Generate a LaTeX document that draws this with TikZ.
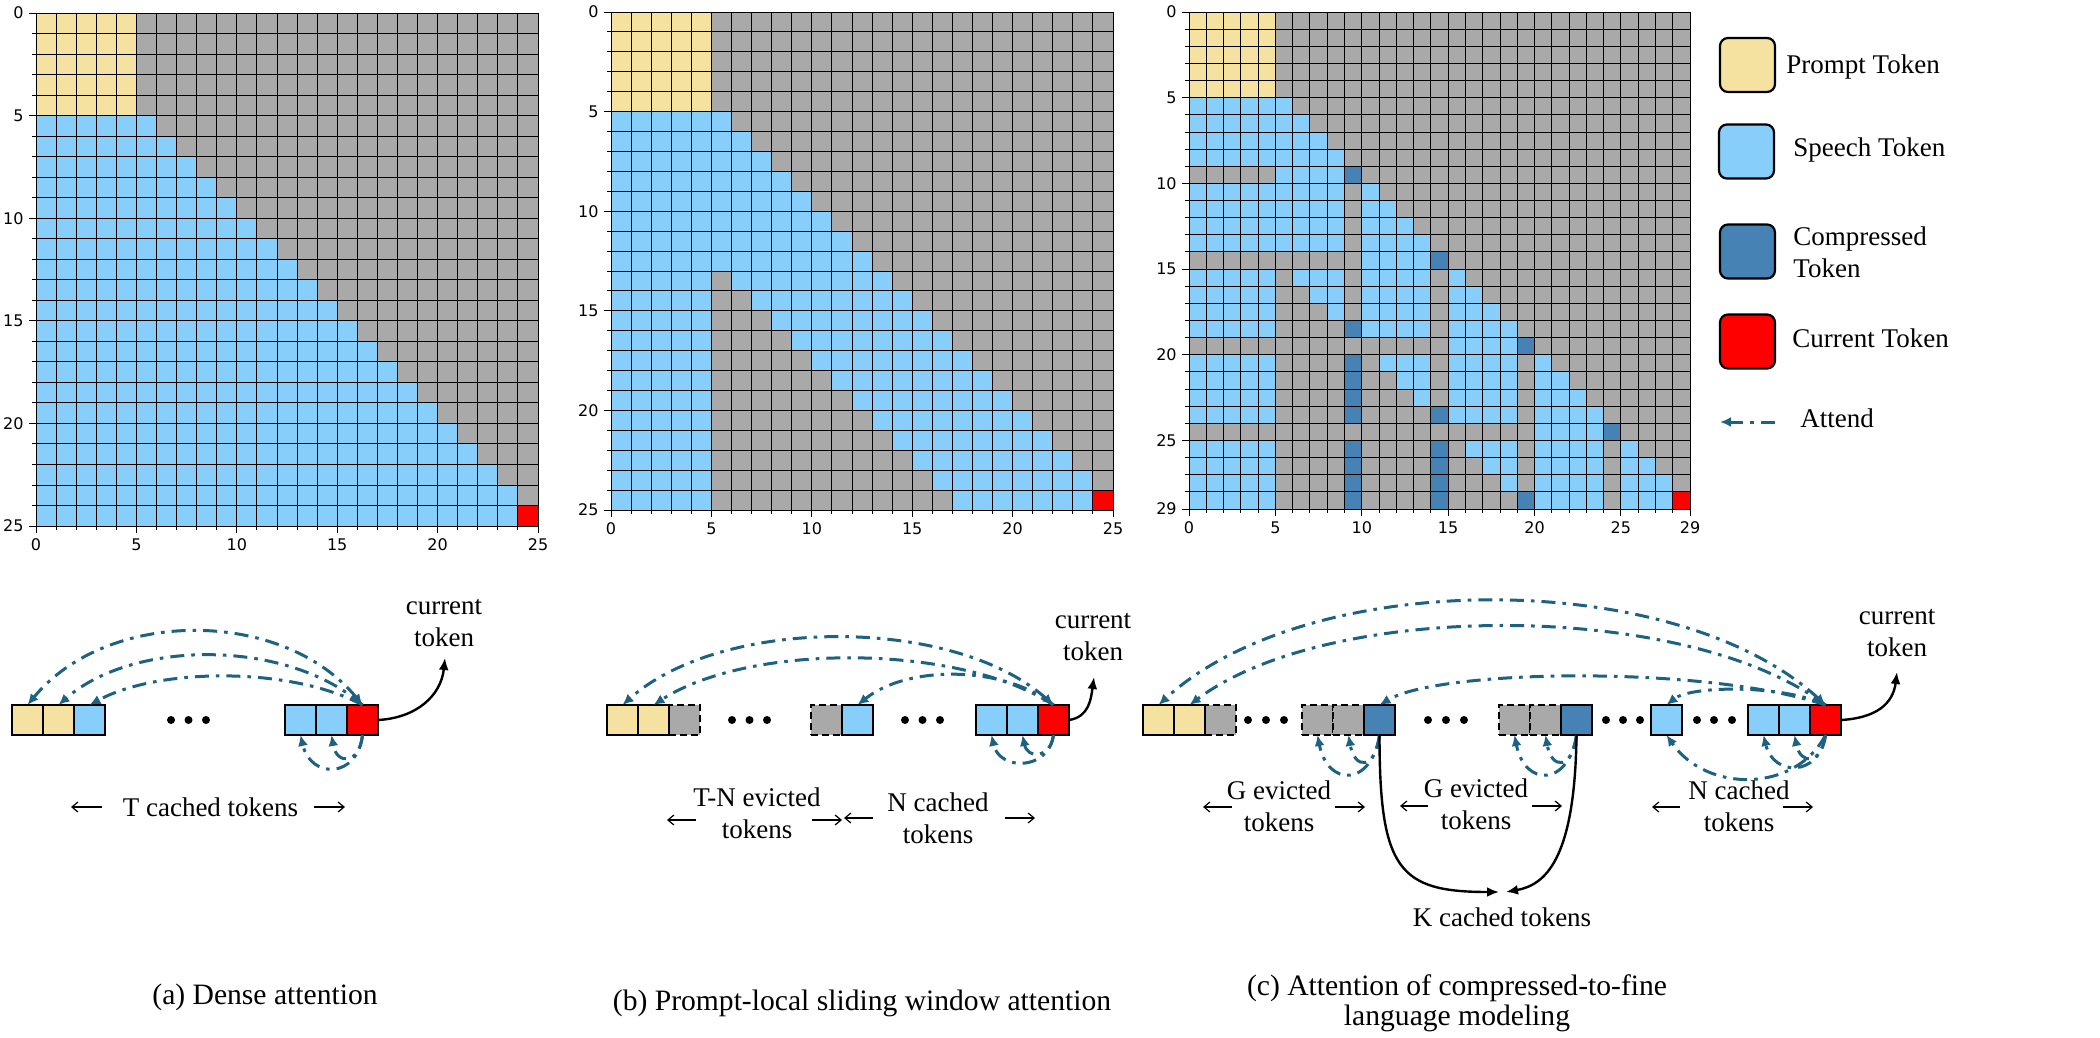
\documentclass[tikz,border=0pt]{standalone}
\usepackage{fontspec}
\setmainfont{Liberation Serif}
\newfontfamily\tickfont{DejaVu Sans}
\usetikzlibrary{arrows.meta}
\definecolor{promptc}{RGB}{246,226,160}
\definecolor{speechc}{RGB}{135,206,250}
\definecolor{comprc}{RGB}{70,130,180}
\definecolor{curc}{RGB}{255,0,0}
\definecolor{greyc}{RGB}{169,169,169}
\definecolor{attc}{RGB}{30,98,130}
\tikzset{
 gridln/.style={black, line width=0.45pt},
 tickln/.style={black, line width=0.45pt},
 ticklbl/.style={font=\tickfont\fontsize{8}{9}\selectfont, inner sep=0pt},
 tok/.style={draw=black, line width=1pt, minimum width=15.5pt, minimum height=15pt, inner sep=0pt, outer sep=0pt},
 evict/.style={tok, fill=greyc, dash pattern=on 3.5pt off 2pt},
 attend/.style={draw=attc, line width=1.5pt, dash pattern=on 7pt off 3.5pt on 1.8pt off 3.5pt, -{Latex[length=5.5pt,width=5pt]}},
 attendboth/.style={attend, {Latex[length=5.5pt,width=5pt]}-{Latex[length=5.5pt,width=5pt]}},
 blk/.style={draw=black, line width=1.2pt, -{Latex[length=6pt,width=5pt]}},
 lbl/.style={font=\fontsize{13.5}{16.2}\selectfont, inner sep=0pt, align=center},
 spanarr/.style={draw=black, line width=0.6pt, -{Straight Barb[length=3pt,width=5pt]}},
 legbox/.style={draw=black, line width=1.1pt, rounded corners=4pt, minimum width=27.5pt, minimum height=27pt, inner sep=0pt},
 captxt/.style={font=\fontsize{14.8}{15}\selectfont, inner sep=0pt, align=center},
}
\begin{document}
\begin{tikzpicture}[x=0.5pt,y=-0.5pt]
\fill[white] (0,0) rectangle (2100,1038);
\useasboundingbox (0,0) rectangle (2100,1038);

% ---------------- Matrix (a)
\begin{scope}[shift={(18pt,-6.5pt)},x=10.04pt,y=-10.26pt]
 \fill[greyc] (0,0) rectangle (25,25);
 \fill[promptc] (0,0) rectangle (5,5);
 \foreach \r in {5,...,23} \fill[speechc] (0,\r) rectangle (\r+1,\r+1);
 \fill[speechc] (0,24) rectangle (24,25);
 \fill[curc] (24,24) rectangle (25,25);
 \foreach \i in {0,...,25} {
   \draw[gridln] (\i,0) -- (\i,25); \draw[gridln] (0,\i) -- (25,\i);
   \draw[tickln] (\i,25) -- ++(0,-1.9pt); \draw[tickln] (0,\i) -- ++(-1.9pt,0);}
 \foreach \i in {0,5,...,25} {
   \draw[tickln] (\i,25) -- ++(0,-3.3pt); \draw[tickln] (0,\i) -- ++(-3.3pt,0);
   \node[ticklbl,anchor=east] (mal\i) at ([xshift=-6pt]0,\i) {\i};
   \node[ticklbl,anchor=north] (mab\i) at ([yshift=-6pt]\i,25) {\i};}
\end{scope}

% ---------------- Matrix (b)
\begin{scope}[shift={(305.5pt,-6pt)},x=10.04pt,y=-9.96pt]
 \fill[greyc] (0,0) rectangle (25,25);
 \fill[promptc] (0,0) rectangle (5,5);
 \foreach \r in {5,...,12} \fill[speechc] (0,\r) rectangle (\r+1,\r+1);
 \foreach \r in {13,...,23} {\fill[speechc] (0,\r) rectangle (5,\r+1); \fill[speechc] (\r-7,\r) rectangle (\r+1,\r+1);}
 \fill[speechc] (0,24) rectangle (5,25);
 \fill[speechc] (17,24) rectangle (24,25);
 \fill[curc] (24,24) rectangle (25,25);
 \foreach \i in {0,...,25} {
   \draw[gridln] (\i,0) -- (\i,25); \draw[gridln] (0,\i) -- (25,\i);
   \draw[tickln] (\i,25) -- ++(0,-1.9pt); \draw[tickln] (0,\i) -- ++(-1.9pt,0);}
 \foreach \i in {0,5,...,25} {
   \draw[tickln] (\i,25) -- ++(0,-3.3pt); \draw[tickln] (0,\i) -- ++(-3.3pt,0);
   \node[ticklbl,anchor=east] (mbl\i) at ([xshift=-6pt]0,\i) {\i};
   \node[ticklbl,anchor=north] (mbb\i) at ([yshift=-6pt]\i,25) {\i};}
\end{scope}

% ---------------- Matrix (c)
\begin{scope}[shift={(594.5pt,-6pt)},x=8.638pt,y=-8.569pt]
 \fill[greyc] (0,0) rectangle (29,29);
 \fill[promptc] (0,0) rectangle (5,5);
 \foreach \r/\a/\b/\c in {5/0/6/speechc, 6/0/7/speechc, 7/0/8/speechc, 8/0/9/speechc,
   9/5/9/speechc, 9/9/10/comprc,
   10/0/9/speechc, 10/10/11/speechc, 11/0/9/speechc, 11/10/12/speechc,
   12/0/9/speechc, 12/10/13/speechc, 13/0/9/speechc, 13/10/14/speechc,
   14/10/14/speechc, 14/14/15/comprc,
   15/0/5/speechc, 15/6/9/speechc, 15/10/14/speechc, 15/15/16/speechc,
   16/0/5/speechc, 16/7/9/speechc, 16/10/14/speechc, 16/15/17/speechc,
   17/0/5/speechc, 17/8/9/speechc, 17/10/14/speechc, 17/15/18/speechc,
   18/0/5/speechc, 18/9/10/comprc, 18/10/14/speechc, 18/15/19/speechc,
   19/15/19/speechc, 19/19/20/comprc,
   20/0/5/speechc, 20/9/10/comprc, 20/11/14/speechc, 20/15/19/speechc, 20/20/21/speechc,
   21/0/5/speechc, 21/9/10/comprc, 21/12/14/speechc, 21/15/19/speechc, 21/20/22/speechc,
   22/0/5/speechc, 22/9/10/comprc, 22/13/14/speechc, 22/15/19/speechc, 22/20/23/speechc,
   23/0/5/speechc, 23/9/10/comprc, 23/14/15/comprc, 23/15/19/speechc, 23/20/24/speechc,
   24/20/24/speechc, 24/24/25/comprc,
   25/0/5/speechc, 25/9/10/comprc, 25/14/15/comprc, 25/16/19/speechc, 25/20/24/speechc, 25/25/26/speechc,
   26/0/5/speechc, 26/9/10/comprc, 26/14/15/comprc, 26/17/19/speechc, 26/20/24/speechc, 26/25/27/speechc,
   27/0/5/speechc, 27/9/10/comprc, 27/14/15/comprc, 27/18/19/speechc, 27/20/24/speechc, 27/25/28/speechc,
   28/0/5/speechc, 28/9/10/comprc, 28/14/15/comprc, 28/19/20/comprc, 28/20/24/speechc, 28/25/28/speechc, 28/28/29/curc}
   \fill[\c] (\a,\r) rectangle (\b,\r+1);
 \foreach \i in {0,...,29} {
   \draw[gridln] (\i,0) -- (\i,29); \draw[gridln] (0,\i) -- (29,\i);
   \draw[tickln] (\i,29) -- ++(0,-1.9pt); \draw[tickln] (0,\i) -- ++(-1.9pt,0);}
 \foreach \i in {0,5,10,15,20,25,29} {
   \draw[tickln] (\i,29) -- ++(0,-3.3pt); \draw[tickln] (0,\i) -- ++(-3.3pt,0);
   \node[ticklbl,anchor=east] (mcl\i) at ([xshift=-6pt]0,\i) {\i};
   \node[ticklbl,anchor=north] (mcb\i) at ([yshift=-6pt]\i,29) {\i};}
\end{scope}

% ---------------- Legend
\node[legbox, fill=promptc] (lg1) at (1747.5,65) {};
\node[lbl, anchor=west] (lt1) at (1786,67) {Prompt Token};
\node[legbox, fill=speechc] (lg2) at (1746.5,151.5) {};
\node[lbl, anchor=west] (lt2) at (1793,150) {Speech Token};
\node[legbox, fill=comprc] (lg3) at (1747.5,251.5) {};
\node[lbl, anchor=west, align=left] (lt3) at (1793,252) {Compressed\\Token};
\node[legbox, fill=curc] (lg4) at (1747.5,341.5) {};
\node[lbl, anchor=west] (lt4) at (1792,338) {Current Token};
\coordinate (lga) at (1775,422);
\coordinate (lgb) at (1720,422);
\draw[attend] (lga) -- (lgb);
\node[lbl, anchor=west] (lt5) at (1800,418) {Attend};

% ---------------- Bottom (a)
\node[tok, fill=promptc] (ay1) at (27.5,720) {};
\node[tok, fill=promptc] (ay2) at (58.5,720) {};
\node[tok, fill=speechc] (ab1) at (89.5,720) {};
\foreach \xx in {171,188.5,206} \fill (\xx,720) circle (2pt);
\node[tok, fill=speechc] (ab2) at (300.5,720) {};
\node[tok, fill=speechc] (ab3) at (331.5,720) {};
\node[tok, fill=curc] (ared) at (362.5,720) {};
\draw[attendboth] (ared.north) .. controls +(-80,-97) and +(80,-97) .. (ay1.north);
\draw[attend] (ared.north) .. controls +(-75,-66) and +(75,-66) .. (ay2.north);
\draw[attend] (ared.north) .. controls +(-70,-38) and +(70,-38) .. (ab1.north);
\draw[attend] (ared.south) .. controls +(-5,44) and +(10,44) .. (ab2.south);
\draw[attend] (ared.south) .. controls +(-3,30) and +(5,30) .. (ab3.south);
\node[lbl] (acurt) at (444,623) {current\\token};
\coordinate (aarr) at (445,658);
\draw[blk] (ared.east) .. controls +(38,-2) and +(-4,38) .. (aarr);
\node[lbl] (aT) at (210.5,807) {T cached tokens};

% ---------------- Bottom (b)
\node[evict] (bg1) at (684.5,720) {};
\node[tok, fill=promptc] (by1) at (622.5,720) {};
\node[tok, fill=promptc] (by2) at (653.5,720) {};
\foreach \xx in {732,749.5,767} \fill (\xx,720) circle (2pt);
\node[evict] (bg2) at (826.5,720) {};
\node[tok, fill=speechc] (bb1) at (857.5,720) {};
\foreach \xx in {905,922.5,940} \fill (\xx,720) circle (2pt);
\node[tok, fill=speechc] (bb2) at (991.5,720) {};
\node[tok, fill=speechc] (bb3) at (1022.5,720) {};
\node[tok, fill=curc] (bred) at (1053.5,720) {};
\draw[attendboth] (bred.north) .. controls +(-100,-89) and +(100,-89) .. (by1.north);
\draw[attend] (bred.north) .. controls +(-95,-62) and +(95,-62) .. (by2.north);
\draw[attend] (bred.north) .. controls +(-50,-40) and +(50,-40) .. (bb1.north);
\draw[attend] (bred.south) .. controls +(-5,36) and +(8,36) .. (bb2.south);
\draw[attend] (bred.south) .. controls +(-3,24) and +(5,24) .. (bb3.south);
\node[lbl] (bcurt) at (1093,637) {current\\token};
\coordinate (barr) at (1094,677);
\draw[blk] (bred.east) .. controls +(20,-3) and +(-3,22) .. (barr);
\node[lbl] (bTN) at (757,813) {T-N evicted\\tokens};
\node[lbl] (bN) at (938,818) {N cached\\tokens};

% ---------------- Bottom (c)
\node[evict] (cg0) at (1220.5,720) {};
\node[tok, fill=promptc] (cy1) at (1158.5,720) {};
\node[tok, fill=promptc] (cy2) at (1189.5,720) {};
\foreach \xx in {1248,1266,1284} \fill (\xx,720) circle (2pt);
\node[evict] (cg1a) at (1317.5,720) {};
\node[evict] (cg1b) at (1348.5,720) {};
\node[tok, fill=comprc] (cd1) at (1379.5,720) {};
\foreach \xx in {1428,1446,1464} \fill (\xx,720) circle (2pt);
\node[evict] (cg2a) at (1514.5,720) {};
\node[evict] (cg2b) at (1545.5,720) {};
\node[tok, fill=comprc] (cd2) at (1576.5,720) {};
\foreach \xx in {1606,1623,1640} \fill (\xx,720) circle (2pt);
\node[tok, fill=speechc] (cbs) at (1666.5,720) {};
\foreach \xx in {1697,1714,1732} \fill (\xx,720) circle (2pt);
\node[tok, fill=speechc] (cb1) at (1763.5,720) {};
\node[tok, fill=speechc] (cb2) at (1794.5,720) {};
\node[tok, fill=curc] (cred) at (1825.5,720) {};
\draw[attendboth] (cred.north) .. controls +(-150,-138) and +(150,-138) .. (cy1.north);
\draw[attend] (cred.north) .. controls +(-140,-105) and +(140,-105) .. (cy2.north);
\draw[attend] (cred.north) .. controls +(-120,-40) and +(60,-36) .. (cd1.north);
\draw[attend] (cred.north) .. controls +(-40,-20) and +(25,-20) .. (cbs.north);
\draw[attend] (cred.south) .. controls +(-4,30) and +(6,30) .. (cb2.south);
\draw[attend] (cred.south) .. controls +(-6,42) and +(10,42) .. (cb1.south);
\draw[attend] (cred.south) .. controls +(-30,58) and +(40,58) .. (cbs.south);
\draw[attend] (cd1.south) .. controls +(-4,35) and +(6,35) .. (cg1b.south);
\draw[attend] (cd1.south) .. controls +(-8,52) and +(10,52) .. (cg1a.south);
\draw[attend] (cd2.south) .. controls +(-4,35) and +(6,35) .. (cg2b.south);
\draw[attend] (cd2.south) .. controls +(-8,52) and +(10,52) .. (cg2a.south);
\node[lbl] (ccurt) at (1897,633) {current\\token};
\coordinate (carr) at (1897,672);
\draw[blk] (cred.east) .. controls +(35,-2) and +(-4,32) .. (carr);
\node[lbl] (cG1) at (1279,806) {G evicted\\tokens};
\node[lbl] (cG2) at (1476,804) {G evicted\\tokens};
\node[lbl] (cN) at (1739,806) {N cached\\tokens};
\node[lbl] (cK) at (1502,917) {K cached tokens};
\coordinate (kl) at (1499,892);
\coordinate (kr) at (1506,892);
\draw[blk] (cd1.south) .. controls +(0,135) and +(-100,0) .. (kl);
\draw[blk] (cd2.south) .. controls +(-1.5,125) and +(39,-7) .. (kr);

% ---------------- span arrows
\foreach \n/\sx/\ex/\yy in {1/102/71/807, 2/314/345/807,
   3/696/667/820, 4/812/842/820, 5/873/844/818, 6/1005/1035/818,
   7/1232/1203/807, 8/1335/1365/807, 9/1428/1400/806, 10/1532/1562/806,
   11/1680/1652/807, 12/1783/1813/807} {
  \coordinate (sp\n s) at (\sx,\yy);
  \coordinate (sp\n e) at (\ex,\yy);
  \draw[spanarr] (sp\n s) -- (sp\n e);}

% ---------------- captions
\node[captxt] (capa) at (265,997) {(a) Dense attention};
\node[captxt] (capb) at (862,1003) {(b) Prompt-local sliding window attention};
\node[captxt] (capc) at (1457,1003) {(c) Attention of compressed-to-fine\\language modeling};
\end{tikzpicture}
\end{document}
